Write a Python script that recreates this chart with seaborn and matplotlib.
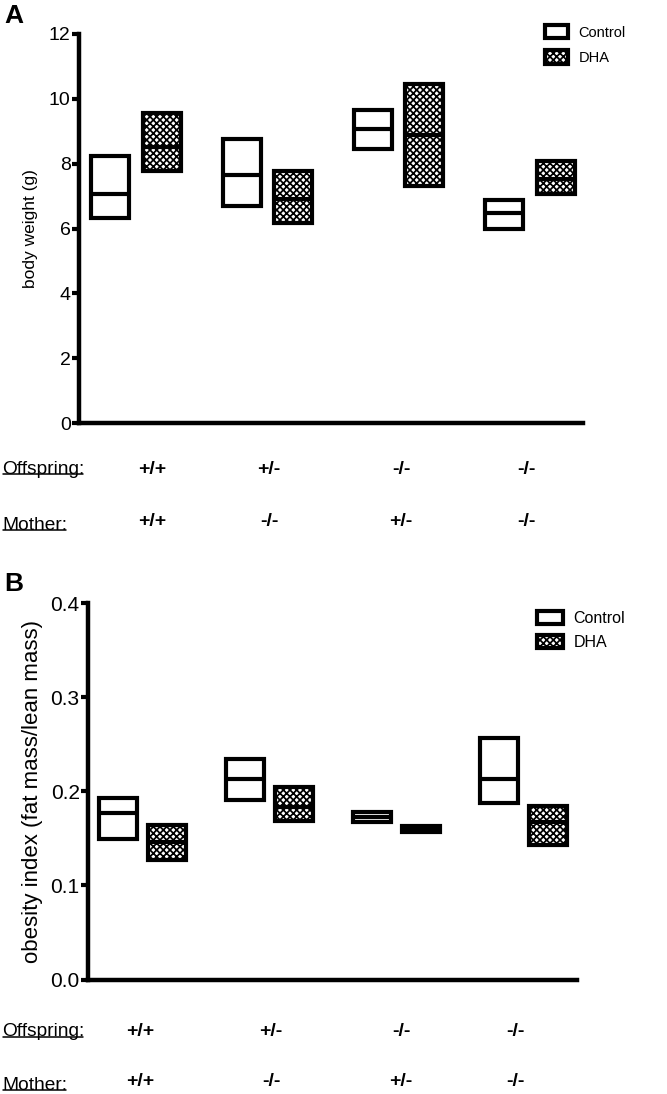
import numpy as np
import pandas as pd
import matplotlib
matplotlib.use("Agg")
import matplotlib.pyplot as plt
import seaborn as sns
from matplotlib.patches import Patch
from matplotlib.lines import Line2D

# ---------------- data ----------------
offspring = ["+/+", "+/-", "-/-", "-/-"]
mother = ["+/+", "-/-", "+/-", "-/-"]
treatments = ["Control", "DHA"]

# Panel A: body weight (g) -- floating bars (min..max) with mean line
bw_ctrl_lo = [6.31, 6.69, 8.46, 6.00]
bw_ctrl_hi = [8.25, 8.77, 9.66, 6.89]
bw_ctrl_mean = [7.05, 7.64, 9.07, 6.48]
bw_dha_lo = [7.77, 6.17, 7.30, 7.06]
bw_dha_hi = [9.56, 7.77, 10.46, 8.07]
bw_dha_mean = [8.51, 6.92, 8.87, 7.54]

# Panel B: obesity index (fat mass / lean mass)
oi_ctrl_lo = [0.149, 0.191, 0.167, 0.188]
oi_ctrl_hi = [0.193, 0.234, 0.178, 0.257]
oi_ctrl_mean = [0.177, 0.213, 0.173, 0.213]
oi_dha_lo = [0.127, 0.169, 0.157, 0.143]
oi_dha_hi = [0.164, 0.205, 0.163, 0.185]
oi_dha_mean = [0.146, 0.183, 0.160, 0.167]

# ---------------- style ----------------
sns.set_style("ticks")
plt.rcParams['font.family'] = ['Liberation Sans', 'DejaVu Sans']
plt.rcParams['hatch.linewidth'] = 1.25
for k in ("axes.edgecolor", "xtick.color", "ytick.color", "text.color",
          "axes.labelcolor"):
    plt.rcParams[k] = "black"
HATCH = 'xxxxx'
W, H = 667, 1094

fig = plt.figure(figsize=(6.67, 10.94), dpi=100)
axA = fig.add_axes([79 / W, 1 - 423 / H, (583 - 79) / W, (423 - 34) / H])
axB = fig.add_axes([88 / W, 1 - 979.5 / H, (577 - 88) / W, (979.5 - 603.3) / H])


def draw_panel(ax, lo_c, hi_c, m_c, lo_d, hi_d, m_d, offset, width):
    idx = np.arange(len(offspring))
    series = [(lo_c, hi_c, m_c, -offset, None), (lo_d, hi_d, m_d, offset, HATCH)]
    for lo, hi, mean, off, hatch in series:
        lo = np.asarray(lo, float)
        hi = np.asarray(hi, float)
        df = pd.DataFrame({"pos": idx + off, "span": hi - lo})
        sns.barplot(data=df, x="pos", y="span", native_scale=True, orient="x",
                    errorbar=None, width=width, bottom=lo, color="white",
                    facecolor="white", edgecolor="black", linewidth=3,
                    hatch=hatch, ax=ax)
        ax.hlines(mean, idx + off - width / 2, idx + off + width / 2,
                  color="black", lw=3)


draw_panel(axA, bw_ctrl_lo, bw_ctrl_hi, bw_ctrl_mean,
           bw_dha_lo, bw_dha_hi, bw_dha_mean, 0.196, 0.29)
draw_panel(axB, oi_ctrl_lo, oi_ctrl_hi, oi_ctrl_mean,
           oi_dha_lo, oi_dha_hi, oi_dha_mean, 0.193, 0.30)

for ax in (axA, axB):
    sns.despine(ax=ax)
    for s in ("left", "bottom"):
        ax.spines[s].set_linewidth(3.2)
        ax.spines[s].set_color("black")
    ax.tick_params(axis="y", width=3, length=5, direction="out", pad=1,
                   color="black", labelcolor="black")
    ax.tick_params(axis="x", length=0, labelbottom=False)
    ax.set_xlabel("")

axA.set_xlim(-0.434, 3.404)
axA.set_ylim(0, 12)
axA.set_yticks(np.arange(0, 13, 2))
axA.tick_params(axis="y", labelsize=14)
axA.set_ylabel("body weight (g)", fontsize=12.5)
axA.yaxis.set_label_coords(-0.082, 0.5)

axB.set_xlim(-0.428, 3.42)
axB.set_ylim(0, 0.4)
axB.set_yticks(np.arange(0, 0.41, 0.1))
axB.set_yticklabels([f"{v:.1f}" for v in np.arange(0, 0.41, 0.1)])
axB.tick_params(axis="y", labelsize=15)
axB.set_ylabel("obesity index (fat mass/lean mass)", fontsize=16)
axB.yaxis.set_label_coords(-0.092, 0.5)

# panel letters
fig.text(4 / W, 1 - 4 / H, "A", fontsize=19, fontweight="bold", va="top", ha="left")
fig.text(4 / W, 1 - 572 / H, "B", fontsize=19, fontweight="bold", va="top", ha="left")

# legends
def legend_handles():
    return [Patch(facecolor="white", edgecolor="black", linewidth=3),
            Patch(facecolor="white", edgecolor="black", linewidth=3, hatch=HATCH)]

fig.legend(legend_handles(), treatments, loc="upper left",
           bbox_to_anchor=(545 / W, 1 - 25 / H), frameon=False, fontsize=10.5,
           handlelength=1.6, handleheight=1.0, handletextpad=0.7,
           labelspacing=0.75, borderpad=0, borderaxespad=0)
fig.legend(legend_handles(), treatments, loc="upper left",
           bbox_to_anchor=(537 / W, 1 - 611 / H), frameon=False, fontsize=11.5,
           handlelength=1.6, handleheight=0.9, handletextpad=0.7,
           labelspacing=0.55, borderpad=0, borderaxespad=0)

# genotype rows beneath the panels
colsA = [152, 269, 401, 526]
colsB = [140.5, 271, 401, 515.5]
under = []
for cols, y_off, y_mom in ((colsA, 469, 522), (colsB, 1032, 1082)):
    under.append(fig.text(2 / W, 1 - y_off / H, "Offspring:", fontsize=13.8,
                          va="center", ha="left"))
    under.append(fig.text(2 / W, 1 - (y_mom + 3) / H, "Mother:", fontsize=13.8,
                          va="center", ha="left"))
    for x, o, m in zip(cols, offspring, mother):
        fig.text(x / W, 1 - y_off / H, o, fontsize=14, fontweight="bold",
                 va="center", ha="center")
        fig.text(x / W, 1 - y_mom / H, m, fontsize=14, fontweight="bold",
                 va="center", ha="center")

fig.canvas.draw()
inv = fig.transFigure.inverted()
for t in under:
    bb = t.get_window_extent().transformed(inv)
    yy = bb.y0 + 4 / H
    fig.add_artist(Line2D([bb.x0 + 1 / W, bb.x1 - 1 / W], [yy, yy], color="black",
                          lw=1.1, transform=fig.transFigure))

fig.savefig("out.png", dpi=100)
